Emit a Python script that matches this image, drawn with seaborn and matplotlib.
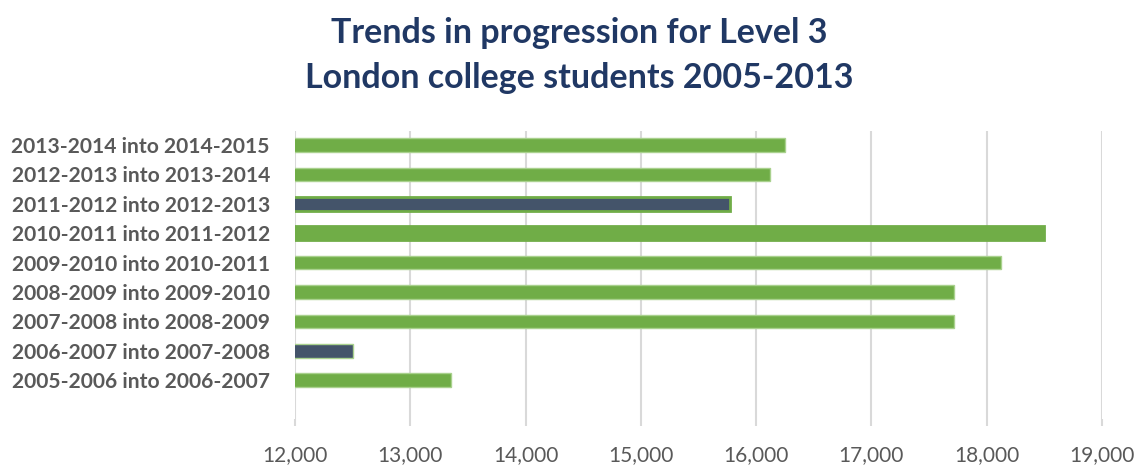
import matplotlib
matplotlib.use("Agg")
import matplotlib.pyplot as plt
import seaborn as sns
import pandas as pd
from matplotlib.ticker import FuncFormatter

# Progression cohorts, top to bottom
cohorts = [
    "2013-2014 into 2014-2015",
    "2012-2013 into 2013-2014",
    "2011-2012 into 2012-2013",
    "2010-2011 into 2011-2012",
    "2009-2010 into 2010-2011",
    "2008-2009 into 2009-2010",
    "2007-2008 into 2008-2009",
    "2006-2007 into 2007-2008",
    "2005-2006 into 2006-2007",
]
students = [16250, 16120, 15770, 18500, 18120, 17720, 17720, 12500, 13350]
# Years picked out with a darker fill
highlighted = [False, False, True, False, False, False, False, True, False]
x_ticks = [12000, 13000, 14000, 15000, 16000, 17000, 18000, 19000]
title_lines = ["Trends in progression for Level 3",
               "London college students 2005-2013"]

GREEN = "#70AD47"
NAVY = "#44546A"
GRID = "#D9D9D9"
TEXT = "#595959"
TITLE = "#203864"

sns.set_theme(style="white")
plt.rcParams["font.family"] = ["Lato", "DejaVu Sans"]

df = pd.DataFrame({"cohort": cohorts, "students": students,
                   "highlight": ["dark" if h else "green" for h in highlighted]})

fig = plt.figure(figsize=(11.38, 4.66), dpi=100)
ax = fig.add_axes([0.2592, 0.1009, 0.9684 - 0.2592, 0.7189 - 0.1009])

sns.barplot(data=df, x="students", y="cohort", hue="highlight",
            palette={"green": GREEN, "dark": NAVY}, dodge=False,
            width=0.46, legend=False, orient="h", ax=ax, saturation=1)

for patch, h in zip(ax.patches, highlighted):
    if h:
        patch.set_edgecolor(GREEN)
        patch.set_linewidth(2.0)
    else:
        patch.set_edgecolor("#A9D18E")
        patch.set_linewidth(1.0)

ax.set_xlim(12000, 19000)
ax.set_ylim(9.32, -0.48)
ax.set_xticks(x_ticks)
ax.xaxis.set_major_formatter(FuncFormatter(lambda v, p: f"{int(v):,}"))
ax.grid(axis="x", color=GRID, linewidth=1.5)
ax.set_axisbelow(True)
for s in ["top", "right", "bottom", "left"]:
    ax.spines[s].set_visible(False)

ax.tick_params(axis="x", length=5, width=1.5, color=GRID, pad=14,
               labelsize=15, labelcolor=TEXT, bottom=True)
ax.tick_params(axis="y", length=0, pad=18, labelsize=15.1, labelcolor=TEXT)
for lbl in ax.get_yticklabels():
    lbl.set_fontweight("bold")
ax.set_xlabel("")
ax.set_ylabel("")

for line, yb in zip(title_lines, [0.9077, 0.8112]):
    fig.text(0.5088, yb, line, ha="center", va="baseline", fontsize=24.5,
             fontweight="bold", color=TITLE)

fig.savefig("out.png", dpi=100, facecolor="white")
